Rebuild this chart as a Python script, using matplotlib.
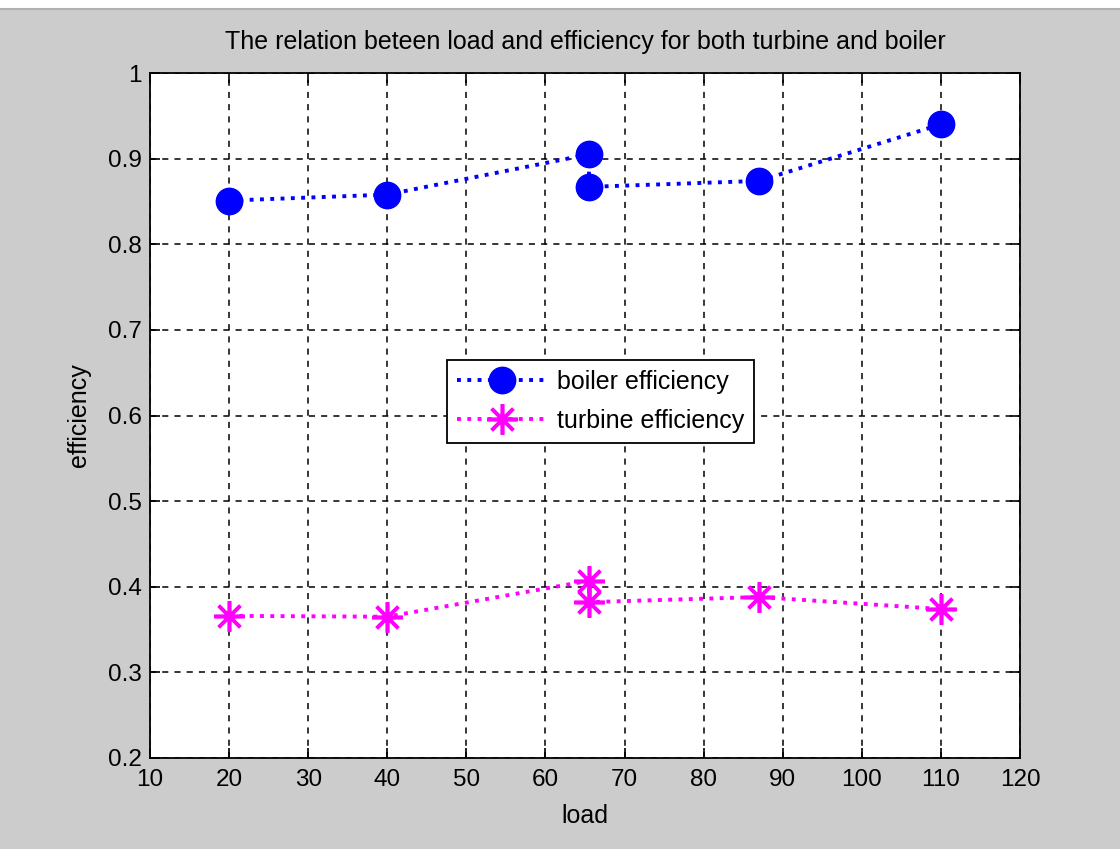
import numpy as np
import matplotlib
matplotlib.use('Agg')
import matplotlib.pyplot as plt
from matplotlib.patches import Rectangle
from matplotlib.lines import Line2D

plt.rcParams['font.family'] = ['Liberation Sans', 'DejaVu Sans']

load = [20, 40, 65.5, 65.5, 87, 110]
boiler_eff = [0.851, 0.858, 0.905, 0.867, 0.874, 0.940]
turbine_eff = [0.366, 0.365, 0.407, 0.382, 0.388, 0.374]

x_ticks = [10, 20, 30, 40, 50, 60, 70, 80, 90, 100, 110, 120]
y_ticks = [0.2, 0.3, 0.4, 0.5, 0.6, 0.7, 0.8, 0.9, 1]
y_labels = ['0.2', '0.3', '0.4', '0.5', '0.6', '0.7', '0.8', '0.9', '1']

fig = plt.figure(figsize=(11.2, 8.49), dpi=100, facecolor='#cccccc')
# white strip at top of window
fig.patches.append(Rectangle((0, 1 - 8 / 849), 1, 8 / 849, transform=fig.transFigure,
                             facecolor='white', edgecolor='none', zorder=0))
fig.add_artist(Line2D([0, 1], [1 - 9 / 849, 1 - 9 / 849], transform=fig.transFigure,
                      color='#b0b0b0', lw=1.5))

ax = fig.add_axes([150 / 1120, 91 / 849, 870 / 1120, 685 / 849])
ax.set_facecolor('white')

ax.plot(load, boiler_eff, color='blue', linestyle=':', linewidth=2.8,
        marker='o', markersize=19, markerfacecolor='blue', markeredgecolor='blue',
        label='boiler efficiency')
ax.plot(load, turbine_eff, color='magenta', linestyle=':', linewidth=2.8,
        marker=(8, 2, 0), markersize=22, markeredgewidth=2.6, markeredgecolor='magenta',
        label='turbine efficiency')

ax.set_xlim(10, 120)
ax.set_ylim(0.2, 1)
ax.set_xticks(x_ticks)
ax.set_yticks(y_ticks)
ax.set_yticklabels(y_labels)
ax.tick_params(direction='in', top=True, right=True, length=7, width=1.2,
               labelsize=17.5)
ax.tick_params(axis='x', pad=8)
ax.tick_params(axis='y', pad=6)
ax.grid(True, color='black', linestyle=(0, (4, 4)), linewidth=1.1)
for s in ax.spines.values():
    s.set_linewidth(1.3)

ax.set_title('The relation beteen load and efficiency for both turbine and boiler',
             fontsize=18, pad=17)
ax.set_xlabel('load', fontsize=18, labelpad=9)
ax.set_ylabel('efficiency', fontsize=18, labelpad=12)

leg = ax.legend(loc='upper left', bbox_to_anchor=(0.341, 0.581), borderaxespad=0,
                fontsize=18, fancybox=False, framealpha=1, edgecolor='black',
                handlelength=3.6, borderpad=0.4, labelspacing=0.6, handletextpad=0.4)
leg.get_frame().set_linewidth(1.3)

fig.savefig('out.png', dpi=100, facecolor=fig.get_facecolor())
